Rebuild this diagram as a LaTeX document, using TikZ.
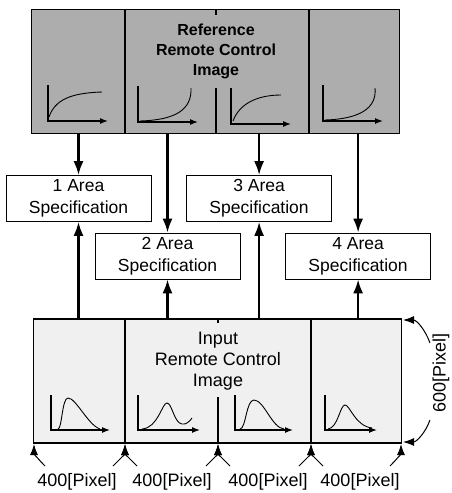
\documentclass[tikz,border=0pt]{standalone}
\usepackage{fontspec}
\setmainfont{Liberation Sans}
\usetikzlibrary{positioning, arrows.meta}

\begin{document}
\begin{tikzpicture}[x=1pt, y=1pt,
    img/.style={draw, line width=1.6pt, minimum width=368pt, minimum height=124pt, inner sep=0pt},
    area/.style={draw, line width=0.6pt, minimum width=145pt, minimum height=46pt, align=center,
                 inner sep=0pt, font=\fontsize{17.5}{22}\selectfont},
    divider/.style={line width=1.6pt},
    flow/.style={line width=2.4pt, -{Latex[length=14pt,width=10pt]}},
    dim/.style={line width=1pt, -{Latex[length=11pt,width=8pt]}},
    axis/.style={line width=1.1pt, -{Latex[length=8pt,width=6pt]}},
    curve/.style={line width=0.9pt},
    dimlabel/.style={font=\fontsize{18}{22}\selectfont, inner sep=0pt}]
    \useasboundingbox (0,0) rectangle (451,-493);

    % reference image (top)
    \node[img, fill=black!32] (ref) at (215.5,-71.5) {};
    \draw[divider] (125,-10) -- (125,-133) (309,-10) -- (309,-133)
                   (216,-88) -- (216,-133) (216,-10) -- (216,-15);
    \node[align=center, font=\bfseries\fontsize{16}{20}\selectfont] (reftxt) at (216,-51)
        {Reference\\Remote Control\\Image};
    \foreach \ox/\oy in {48/-121, 138/-122, 231/-124, 323/-121}
        \draw[axis] (\ox,\oy+36) |- (\ox+60,\oy);
    \draw[curve] (49,-117) .. controls (55,-100) and (70,-93) .. (102,-92);
    \draw[curve] (140,-121) .. controls (175,-120) and (192,-110) .. (191,-88);
    \draw[curve] (233,-121) .. controls (240,-102) and (260,-95) .. (281,-95);
    \draw[curve] (325,-120) .. controls (360,-119) and (377,-108) .. (375,-88);

    % input image (bottom)
    \node[img, fill=black!6] (inp) at (217.5,-381) {};
    \draw[divider] (125,-319) -- (125,-443) (311,-319) -- (311,-443)
                   (218,-397) -- (218,-443) (218,-319) -- (218,-323);
    \node[align=center, font=\fontsize{18}{21}\selectfont] (inptxt) at (218,-361)
        {Input\\Remote Control\\Image};
    \foreach \ox/\len in {51/59, 138/62, 235/58, 325/52}
        \draw[axis] (\ox,-395) |- (\ox+\len,-430);
    \draw[curve] (58,-429) .. controls (62,-429) and (62,-398) .. (68,-398)
                 .. controls (76,-398) and (88,-425) .. (100,-429);
    \draw[curve] (142,-429) .. controls (158,-428) and (162,-403) .. (167,-403)
                 .. controls (172,-403) and (174,-423) .. (182,-424)
                 .. controls (186,-425) and (190,-421) .. (192,-418);
    \draw[curve] (240,-429) .. controls (246,-429) and (246,-400) .. (254,-400)
                 .. controls (264,-400) and (272,-428) .. (284,-429);
    \draw[curve] (328,-429) .. controls (338,-428) and (340,-405) .. (345,-405)
                 .. controls (350,-405) and (355,-426) .. (372,-428);

    % area specifications
    \node[area] (a1) at (78.5,-198.5) {1 Area\\Specification};
    \node[area, right=35pt of a1] (a3) {3 Area\\Specification};
    \node[area] (a2) at (167.5,-256) {2 Area\\Specification};
    \node[area, right=45pt of a2] (a4) {4 Area\\Specification};

    \foreach \n in {a1, a2, a3, a4} {
        \draw[flow] (ref.south -| \n.north) -- (\n.north);
        \draw[flow] (inp.north -| \n.south) -- (\n.south);
    }

    % pixel sizes
    \coordinate (c0) at (34,-444);
    \coordinate (c1) at (125,-444);
    \coordinate (c2) at (218,-444);
    \coordinate (c3) at (311,-444);
    \coordinate (c4) at (401,-444);
    \draw[dim] (45,-466) to[out=135, in=-90] (c0);
    \foreach \c/\x in {c1/125, c2/218, c3/311} {
        \draw[dim] (\x-12,-466) to[out=45, in=-90] (\c);
        \draw[dim] (\x+12,-466) to[out=135, in=-90] (\c);
    }
    \draw[dim] (390,-466) to[out=45, in=-90] (c4);
    \coordinate (tr) at (403,-320);
    \coordinate (br) at (403,-442);
    \draw[dim] (430,-343) to[out=110, in=0] (tr);
    \draw[dim] (430,-420) to[out=-110, in=0] (br);
    \node[dimlabel, rotate=90] (hgt) at (441,-373) {600[Pixel]};
    \node[dimlabel] (w1) at (77,-482) {400[Pixel]};
    \node[dimlabel] (w2) at (172,-482) {400[Pixel]};
    \node[dimlabel] (w3) at (268,-482) {400[Pixel]};
    \node[dimlabel] (w4) at (360,-482) {400[Pixel]};
\end{tikzpicture}
\end{document}
